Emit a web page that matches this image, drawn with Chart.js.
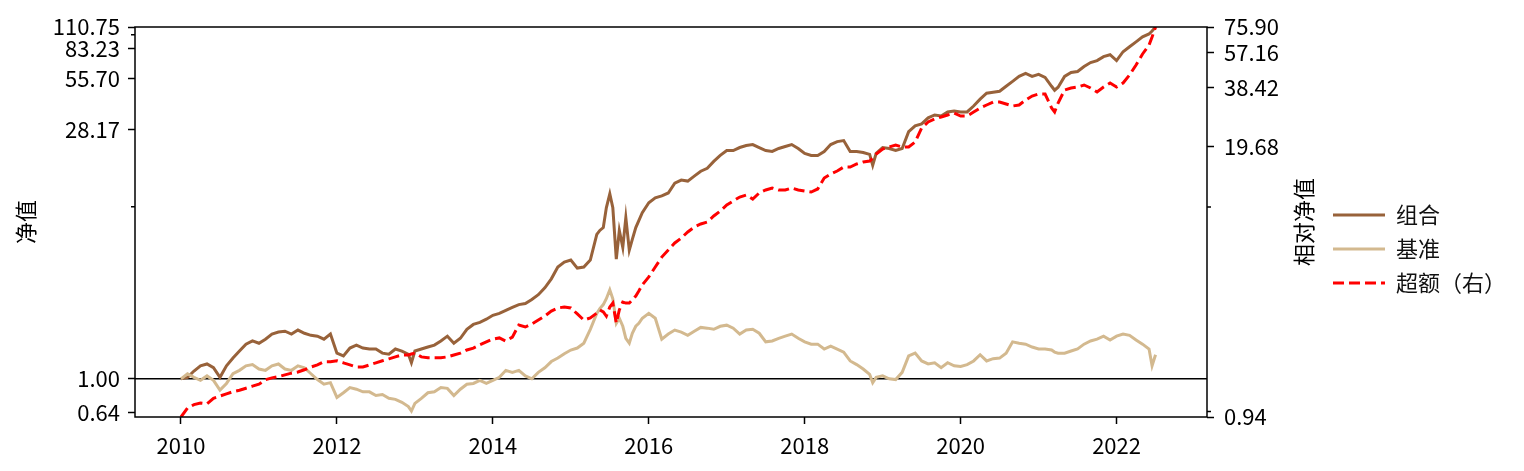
<!DOCTYPE html>
<html>
<head>
<meta charset="utf-8">
<title>组合净值</title>
<script src="https://cdn.jsdelivr.net/npm/chart.js@4.4.1/dist/chart.umd.min.js"></script>
<style>
  html, body { margin: 0; padding: 0; background: #fff; }
</style>
</head>
<body>
<canvas id="navChart" width="1524" height="471"></canvas>
<script>
// month-start dates, with a few mid-month points where the curves move fast
const dates = [
  '2010-01','2010-02','2010-03','2010-04','2010-05','2010-06','2010-07','2010-08','2010-09','2010-10','2010-11','2010-12',
  '2011-01','2011-02','2011-03','2011-04','2011-05','2011-06','2011-07','2011-08','2011-09','2011-10','2011-11','2011-12',
  '2012-01','2012-02','2012-03','2012-04','2012-05','2012-06','2012-07','2012-08','2012-09','2012-10','2012-11','2012-12','2012-12-15',
  '2013-01','2013-02','2013-03','2013-04','2013-05','2013-06','2013-07','2013-08','2013-09','2013-10','2013-11','2013-12',
  '2014-01','2014-02','2014-03','2014-04','2014-05','2014-06','2014-07','2014-08','2014-09','2014-10','2014-11','2014-12',
  '2015-01','2015-02','2015-03','2015-04','2015-05','2015-05-15','2015-06','2015-06-15','2015-07','2015-07-15',
  '2015-08','2015-08-15','2015-09','2015-09-15','2015-10','2015-10-15','2015-11','2015-11-15','2015-12',
  '2016-01','2016-02','2016-03','2016-04','2016-05','2016-06','2016-07','2016-08','2016-09','2016-10','2016-11','2016-12',
  '2017-01','2017-02','2017-03','2017-04','2017-05','2017-06','2017-07','2017-08','2017-09','2017-10','2017-11','2017-12',
  '2018-01','2018-02','2018-03','2018-04','2018-05','2018-06','2018-07','2018-08','2018-09','2018-10','2018-11','2018-11-15','2018-12',
  '2019-01','2019-02','2019-03','2019-04','2019-05','2019-06','2019-07','2019-08','2019-09','2019-10','2019-11','2019-12',
  '2020-01','2020-02','2020-03','2020-04','2020-05','2020-06','2020-07','2020-08','2020-09','2020-10','2020-11','2020-12',
  '2021-01','2021-02','2021-03','2021-03-15','2021-04','2021-05','2021-06','2021-07','2021-08','2021-09','2021-10','2021-11','2021-12',
  '2022-01','2022-02','2022-03','2022-04','2022-05','2022-06','2022-06-15','2022-07'
];

// 组合 (left axis)
const portfolio = [
  1.00, 1.02, 1.11, 1.19, 1.22, 1.16, 1.02, 1.19, 1.32, 1.45, 1.59, 1.66,
  1.61, 1.70, 1.82, 1.87, 1.89, 1.82, 1.92, 1.84, 1.79, 1.77, 1.70, 1.82,
  1.41, 1.36, 1.51, 1.57, 1.51, 1.49, 1.49, 1.41, 1.39, 1.49, 1.45, 1.39, 1.24,
  1.45, 1.49, 1.53, 1.57, 1.66, 1.77, 1.61, 1.72, 1.94, 2.07, 2.13, 2.22,
  2.34, 2.40, 2.50, 2.60, 2.70, 2.74, 2.89, 3.08, 3.38, 3.81, 4.46, 4.77,
  4.90, 4.40, 4.46, 4.90, 6.90, 7.28, 7.57, 9.86, 11.87, 9.86,
  4.96, 7.28, 5.81, 8.64, 5.59, 6.46, 7.57, 8.31, 9.23,
  10.54, 11.26, 11.56, 12.02, 13.72, 14.28, 14.09, 15.05, 16.08, 16.73, 18.35, 19.87,
  21.22, 21.22, 22.08, 22.68, 22.98, 22.08, 21.22, 20.95, 21.80, 22.38, 22.98, 21.80,
  20.40, 19.87, 19.87, 20.95, 22.98, 23.90, 24.23, 20.95, 20.95, 20.67, 20.13, 17.41, 20.40,
  22.08, 21.80, 21.22, 21.80, 27.29, 29.53, 30.32, 32.83, 34.15, 33.70, 35.53, 36.00,
  35.53, 35.53, 38.47, 42.20, 45.67, 46.28, 46.90, 50.11, 53.53, 57.20, 59.50, 57.20,
  58.71, 56.44, 50.11, 47.53, 49.45, 57.20, 60.29, 61.09, 65.26, 68.81, 70.65, 74.47, 76.46,
  70.65, 79.56, 85.01, 90.81, 97.00, 100.90, 105.00, 110.75
];

// 基准 (left axis)
const benchmark = [
  1.00, 1.07, 1.02, 0.98, 1.04, 0.98, 0.86, 0.94, 1.07, 1.12, 1.19, 1.21,
  1.14, 1.12, 1.19, 1.22, 1.14, 1.12, 1.19, 1.16, 1.07, 0.99, 0.93, 0.95,
  0.78, 0.83, 0.89, 0.87, 0.84, 0.84, 0.80, 0.81, 0.77, 0.76, 0.73, 0.69, 0.65,
  0.72, 0.77, 0.83, 0.84, 0.89, 0.88, 0.80, 0.87, 0.93, 0.94, 0.98, 0.94,
  0.98, 1.02, 1.12, 1.09, 1.12, 1.04, 1.00, 1.09, 1.16, 1.26, 1.32, 1.40,
  1.47, 1.51, 1.61, 1.94, 2.40, 2.56, 2.70, 2.92, 3.29, 2.92,
  2.10, 2.25, 2.02, 1.72, 1.61, 1.84, 2.02, 2.10, 2.25,
  2.40, 2.25, 1.70, 1.82, 1.92, 1.87, 1.79, 1.89, 1.99, 1.97, 1.94, 2.02,
  2.05, 1.97, 1.82, 1.92, 1.94, 1.84, 1.64, 1.66, 1.72, 1.77, 1.82, 1.72,
  1.64, 1.59, 1.59, 1.49, 1.55, 1.49, 1.43, 1.27, 1.21, 1.14, 1.06, 0.95, 1.02,
  1.04, 1.00, 0.99, 1.09, 1.36, 1.41, 1.27, 1.22, 1.24, 1.16, 1.24, 1.19,
  1.18, 1.21, 1.27, 1.38, 1.27, 1.31, 1.32, 1.41, 1.64, 1.61, 1.59, 1.53,
  1.49, 1.49, 1.47, 1.43, 1.41, 1.41, 1.45, 1.49, 1.59, 1.66, 1.70, 1.77, 1.68,
  1.77, 1.82, 1.79, 1.68, 1.59, 1.49, 1.19, 1.38
];

// 超额（右） (right axis)
const excess = [
  0.94, 1.04, 1.08, 1.10, 1.09, 1.16, 1.19, 1.22, 1.25, 1.27, 1.30, 1.33,
  1.36, 1.43, 1.46, 1.48, 1.51, 1.54, 1.56, 1.60, 1.65, 1.69, 1.75, 1.75,
  1.77, 1.73, 1.69, 1.65, 1.65, 1.69, 1.73, 1.77, 1.81, 1.85, 1.89, 1.89, 1.91,
  1.93, 1.85, 1.83, 1.83, 1.83, 1.85, 1.89, 1.93, 2.00, 2.04, 2.12, 2.19,
  2.26, 2.29, 2.21, 2.31, 2.65, 2.59, 2.68, 2.80, 2.93, 3.10, 3.21, 3.24,
  3.21, 3.00, 2.80, 2.87, 3.03, 3.14, 3.07, 2.93, 3.24, 3.39,
  2.71, 3.14, 3.43, 3.39, 3.39, 3.51, 3.67, 3.88, 4.16,
  4.55, 5.09, 5.69, 6.16, 6.67, 7.05, 7.55, 7.98, 8.26, 8.45, 9.04, 9.56,
  10.23, 10.70, 11.19, 11.45, 10.94, 11.71, 12.11, 12.39, 12.11, 12.11, 12.39, 12.11,
  11.97, 11.84, 12.25, 13.86, 14.50, 15.00, 15.69, 15.69, 16.23, 16.60, 16.79, 17.36, 18.16,
  19.21, 19.65, 20.10, 19.65, 19.65, 20.79, 24.34, 26.04, 26.94, 27.55, 28.18, 28.82,
  27.86, 27.86, 29.14, 30.49, 31.54, 32.62, 32.62, 31.89, 31.18, 31.54, 33.36, 34.89,
  35.69, 35.69, 30.49, 29.14, 32.26, 37.34, 38.19, 38.63, 39.51, 38.19, 36.50, 38.63, 40.41,
  38.63, 40.41, 44.21, 49.48, 56.01, 61.98, 67.82, 75.90
];

const xTicks = [2010, 2012, 2014, 2016, 2018, 2020, 2022];
const leftTicks = [0.64, 1.00, 28.17, 55.70, 83.23, 110.75];
const rightTicks = [0.94, 19.68, 38.42, 57.16, 75.90];
const leftMinor = [10, 100];
const rightMinor = [1, 10];

const FONT = "'Noto Sans CJK SC', 'Liberation Sans', sans-serif";

function toYear(s) {
  const p = s.split('-').map(Number);
  return p[0] + (p[1] - 1) / 12 + ((p[2] || 1) - 1) / 360;
}

function series(values) {
  return dates.map((d, i) => ({ x: toYear(d), y: values[i] }));
}

// black frame, 1.00 line, minor ticks, axis titles
const decor = {
  id: 'decor',
  beforeDatasetsDraw(chart) {
    const { ctx, chartArea } = chart;
    const y = chart.scales.y.getPixelForValue(1);
    ctx.save();
    ctx.strokeStyle = '#000';
    ctx.lineWidth = 1.5;
    ctx.beginPath();
    ctx.moveTo(chartArea.left, y);
    ctx.lineTo(chartArea.right, y);
    ctx.stroke();
    ctx.restore();
  },
  afterDraw(chart) {
    const { ctx, chartArea } = chart;
    const { left, right, top, bottom } = chartArea;
    ctx.save();
    ctx.strokeStyle = '#000';
    ctx.lineWidth = 1.5;
    ctx.strokeRect(left, top, right - left, bottom - top);

    ctx.beginPath();
    leftMinor.forEach(v => {
      const y = chart.scales.y.getPixelForValue(v);
      ctx.moveTo(left - 4, y);
      ctx.lineTo(left, y);
    });
    rightMinor.forEach(v => {
      const y = chart.scales.y1.getPixelForValue(v);
      ctx.moveTo(right, y);
      ctx.lineTo(right + 4, y);
    });
    ctx.stroke();

    const midY = (top + bottom) / 2;
    ctx.fillStyle = '#000';
    ctx.font = '22px ' + FONT;
    ctx.textAlign = 'center';
    ctx.textBaseline = 'middle';
    [['净值', left - 109], ['相对净值', right + 97]].forEach(([txt, x]) => {
      ctx.save();
      ctx.translate(x, midY);
      ctx.rotate(-Math.PI / 2);
      ctx.fillText(txt, 0, 0);
      ctx.restore();
    });
    ctx.restore();
  }
};

const tickGrid = {
  display: true,
  drawOnChartArea: false,
  drawTicks: true,
  tickLength: 7,
  tickWidth: 1.5,
  tickColor: '#000'
};

new Chart(document.getElementById('navChart'), {
  type: 'line',
  data: {
    datasets: [
      {
        label: '组合',
        data: series(portfolio),
        yAxisID: 'y',
        borderColor: '#98623a',
        backgroundColor: '#98623a',
        borderWidth: 3,
        pointRadius: 0,
        order: 3
      },
      {
        label: '基准',
        data: series(benchmark),
        yAxisID: 'y',
        borderColor: '#d3b98f',
        backgroundColor: '#d3b98f',
        borderWidth: 3,
        pointRadius: 0,
        order: 2
      },
      {
        label: '超额（右）',
        data: series(excess),
        yAxisID: 'y1',
        borderColor: '#ff0000',
        backgroundColor: '#ff0000',
        borderWidth: 3,
        borderDash: [11, 5],
        pointRadius: 0,
        order: 1
      }
    ]
  },
  options: {
    responsive: false,
    animation: false,
    events: [],
    layout: { padding: { left: 0, top: 27, right: 8, bottom: 0 } },
    plugins: {
      tooltip: { enabled: false },
      legend: {
        position: 'right',
        align: 'center',
        labels: {
          usePointStyle: true,
          pointStyle: 'line',
          pointStyleWidth: 52,
          padding: 12,
          color: '#111',
          font: { family: FONT, size: 22 },
          sort: (a, b) => a.datasetIndex - b.datasetIndex,
          generateLabels: chart => {
            const items = Chart.defaults.plugins.legend.labels.generateLabels(chart);
            items.forEach(it => {
              const ds = chart.data.datasets[it.datasetIndex];
              it.strokeStyle = ds.borderColor;
              it.lineWidth = ds.borderWidth;
              it.lineDash = ds.borderDash || [];
            });
            return items;
          }
        }
      }
    },
    scales: {
      x: {
        type: 'linear',
        min: 2009.41,
        max: 2023.16,
        afterBuildTicks: s => { s.ticks = xTicks.map(v => ({ value: v })); },
        afterFit: s => { s.height = 54; },
        ticks: {
          autoSkip: false,
          maxRotation: 0,
          padding: 8,
          color: '#000',
          font: { family: FONT, size: 22 },
          callback: v => String(v)
        },
        grid: tickGrid,
        border: { display: false }
      },
      y: {
        type: 'logarithmic',
        position: 'left',
        min: 0.64,
        max: 110.75,
        afterBuildTicks: s => { s.ticks = leftTicks.map(v => ({ value: v })); },
        afterFit: s => { s.width = 135; },
        ticks: {
          autoSkip: false,
          padding: 8,
          color: '#000',
          font: { family: FONT, size: 22 },
          callback: v => Number(v).toFixed(2)
        },
        grid: tickGrid,
        border: { display: false }
      },
      y1: {
        type: 'logarithmic',
        position: 'right',
        min: 0.94,
        max: 75.90,
        afterBuildTicks: s => { s.ticks = rightTicks.map(v => ({ value: v })); },
        afterFit: s => { s.width = 114; },
        ticks: {
          autoSkip: false,
          padding: 10,
          color: '#000',
          font: { family: FONT, size: 22 },
          callback: v => Number(v).toFixed(2)
        },
        grid: tickGrid,
        border: { display: false }
      }
    }
  },
  plugins: [decor]
});
</script>
</body>
</html>
